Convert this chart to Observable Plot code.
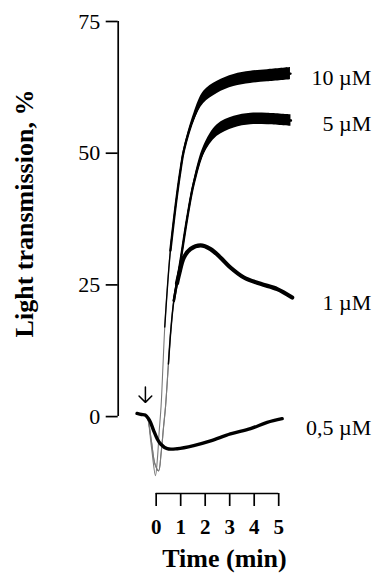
<!DOCTYPE html>
<html>
<head>
<meta charset="utf-8">
<script src="https://cdn.jsdelivr.net/npm/d3@7"></script>
<script src="https://cdn.jsdelivr.net/npm/@observablehq/plot@0.6"></script>
<style>
  html, body { margin: 0; padding: 0; background: #fff; }
  svg { display: block; }
</style>
</head>
<body>
<div id="chart"></div>
<script>
// ---------- data ----------
const seriesNames = ["10 µM", "5 µM", "1 µM", "0,5 µM"];

// time (min) and light transmission (%)
const time10  = [-0.8, -0.45, -0.37, -0.2, -0.03, 0.05, 0.12, 0.2, 0.28, 0.35, 0.45, 0.58, 0.82, 1.0, 1.13, 1.54, 1.94, 2.49, 3.17, 3.85, 4.54, 5.48];
const value10 = [0.5, 0.3, 0, -5.5, -11.2, -8, -3, 2, 10, 17, 24, 31.5, 41, 47, 50.5, 56.8, 60.6, 62.5, 63.8, 64.4, 64.7, 65.1];

const time5  = [-0.8, -0.45, -0.37, -0.2, -0.05, 0.1, 0.2, 0.3, 0.38, 0.5, 0.6, 0.72, 0.99, 1.27, 1.53, 1.94, 2.49, 3.18, 3.86, 4.54, 5.5];
const value5 = [0.5, 0.3, 0, -4.5, -9, -10.3, -7, -2, 1.8, 10, 16.5, 22, 29.5, 37.8, 44.2, 50.5, 54.3, 55.9, 56.5, 56.5, 56.2];

const time1  = [-0.8, -0.45, -0.37, -0.2, -0.05, 0.1, 0.2, 0.3, 0.38, 0.5, 0.6, 0.72, 0.85, 0.95, 1.13, 1.4, 1.81, 2.22, 2.62, 3.03, 3.58, 4.26, 4.94, 5.55];
const value1 = [0.5, 0.3, 0, -4.5, -9, -10.3, -7, -2, 1.8, 10, 16.5, 22, 25.3, 27.3, 30.2, 31.8, 32.5, 31.8, 30.2, 28.3, 26.4, 25.2, 24.2, 22.6];

const time05  = [-0.78, -0.6, -0.45, -0.3, -0.23, -0.1, 0.04, 0.18, 0.45, 0.86, 1.53, 2.22, 3.03, 3.85, 4.53, 5.14];
const value05 = [0.6, 0.4, 0.3, -0.5, -1.1, -2.7, -4.2, -5.2, -6.1, -6.1, -5.5, -4.6, -3.3, -2.3, -1.1, -0.4];

// injection arrow (time, from %, to %)
const arrowTime = [-0.44];
const arrowFrom = [5.6];
const arrowTo = [2.7];

const yTicks = [0, 25, 50, 75];
const xTicks = [0, 1, 2, 3, 4, 5];
const yLabel = "Light transmission, %";
const xLabel = "Time (min)";

// ---------- build tables ----------
const seriesTimes = [time10, time5, time1, time05];
const seriesValues = [value10, value5, value1, value05];
const rows = [];
seriesNames.forEach((name, i) => {
  seriesTimes[i].forEach((t, j) => rows.push({series: name, t, v: seriesValues[i][j]}));
});
const bySeries = d3.group(rows, d => d.series);
const arrows = arrowTime.map((t, i) => ({t, from: arrowFrom[i], to: arrowTo[i]}));

// ---------- styling (not data) ----------
// stages: [from time, stroke width] — trace gets darker/thicker as it slows down
const look = {
  "10 µM":  {greyLine: true,  stages: [[0.45, 1.4], [0.62, 2.4]], band: [0.75, 1.9, 1.15], labelDy: 4},
  "5 µM":   {greyLine: true,  stages: [[0.6, 1.5], [0.75, 2.4]],  band: [1.0, 2.2, 1.1],   labelDy: 3},
  "1 µM":   {greyLine: true,  stages: [[0.75, 2.5], [0.9, 4.2]],  band: null,              labelDy: 5},
  "0,5 µM": {greyLine: false, stages: [[-99, 3.4]],               band: null,              labelDy: 9.5}
};
const halfWidth = (name, t) => {
  const b = look[name].band;
  if (!b) return 0;
  const k = Math.max(0, Math.min(1, (t - b[0]) / (b[1] - b[0])));
  return k * b[2];
};

const xDomain = [-1.55, 5];
const yDomain = [-14.6, 75];
const serif = "'Liberation Serif', 'Times New Roman', 'DejaVu Serif', serif";

const seriesMarks = [];
// thin grey fast-rising traces
for (const name of seriesNames) {
  if (!look[name].greyLine) continue;
  seriesMarks.push(Plot.line(bySeries.get(name), {x: "t", y: "v", stroke: "#7a7a7a", strokeWidth: 1.1, curve: "catmull-rom"}));
}
// black traces
for (const name of seriesNames) {
  const L = look[name];
  const pts = bySeries.get(name);
  for (const [from, w] of L.stages) {
    const startIdx = Math.max(0, pts.findIndex(d => d.t >= from) - 1);
    seriesMarks.push(Plot.line(pts.slice(startIdx), {x: "t", y: "v", stroke: "black", strokeWidth: w, curve: "catmull-rom", strokeLinejoin: "round", strokeLinecap: "round"}));
  }
  if (L.band) {
    const bandPts = pts.filter(d => d.t >= L.band[0] - 0.3);
    seriesMarks.push(Plot.areaY(bandPts, {
      x: "t",
      y1: d => d.v - halfWidth(name, d.t),
      y2: d => d.v + halfWidth(name, d.t),
      fill: "black", curve: "catmull-rom"
    }));
  }
}
// series labels, right-aligned, at the height of each trace's last point
const labelMarks = seriesNames.map(name => Plot.text([bySeries.get(name).at(-1)], {
  frameAnchor: "right", y: "v", text: "series", textAnchor: "end",
  dx: 92.5, dy: look[name].labelDy, fontSize: 22, fill: "#000"
}));

const chart = Plot.plot({
  width: 374,
  height: 582,
  marginLeft: 117.7,
  marginRight: 95.8,
  marginTop: 21,
  marginBottom: 89,
  x: {domain: xDomain, axis: null},
  y: {domain: yDomain, axis: null},
  style: {fontFamily: serif, background: "#fff", color: "#000", overflow: "visible"},
  marks: [
    // y axis line and ticks
    Plot.ruleX([xDomain[0]], {y1: d3.min(yTicks), y2: d3.max(yTicks), stroke: "#000", strokeWidth: 1.7}),
    Plot.axisY({ticks: yTicks, tickFormat: d => String(d), tickSize: 12, tickPadding: 6, fontSize: 22, label: null, strokeWidth: 1.7, stroke: "#000", fill: "#000"}),
    // x axis line and ticks
    Plot.ruleY([yDomain[0]], {x1: d3.min(xTicks), x2: d3.max(xTicks), stroke: "#000", strokeWidth: 1.7}),
    Plot.axisX({ticks: xTicks, tickFormat: d => String(d), tickSize: 13, tickPadding: 13, fontSize: 21, fontWeight: "bold", label: null, strokeWidth: 1.7, stroke: "#000", fill: "#000"}),
    // axis titles
    Plot.text([yLabel], {frameAnchor: "left", textAnchor: "middle", rotate: -90, dx: -94, dy: -44, fontSize: 26, fontWeight: "bold", fill: "#000"}),
    Plot.text([xLabel], {frameAnchor: "bottom", textAnchor: "middle", dx: 26, dy: 73.7, fontSize: 26, fontWeight: "bold", fill: "#000"}),
    ...seriesMarks,
    // injection arrow (drawn from a longer virtual shaft, inset so the head is not capped)
    Plot.arrow(arrows, {x1: "t", x2: "t", y1: d => d.from + 3, y2: "to", insetStart: 15.8, stroke: "#000", strokeWidth: 1.5, headAngle: 90, headLength: 9}),
    ...labelMarks
  ]
});

document.getElementById("chart").append(chart);
</script>
</body>
</html>
